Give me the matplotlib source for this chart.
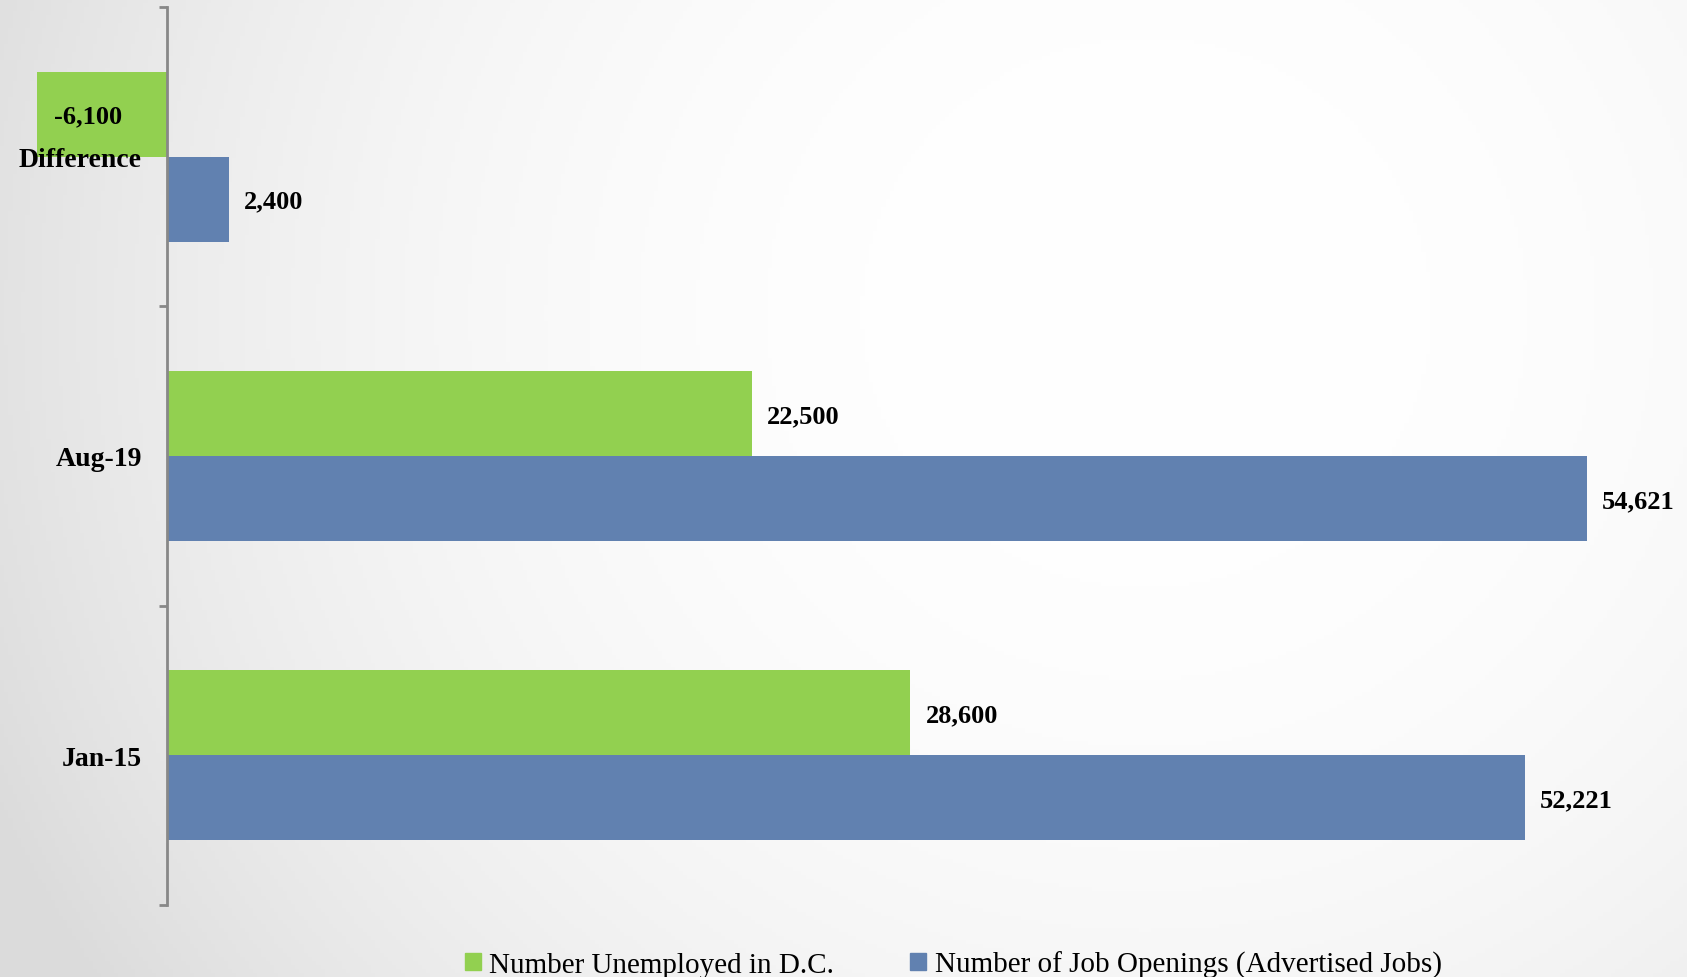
import numpy as np
import matplotlib.pyplot as plt
from matplotlib.patches import Patch

# 데이터
categories = ['Jan-15', 'Aug-19', 'Difference']
unemployed = [28600, 22500, -6100]
openings = [52221, 54621, 2400]
series_names = ['Number Unemployed in D.C.', 'Number of Job Openings (Advertised Jobs)']
green = '#92D050'
blue = '#6181B0'

plt.rcParams['font.family'] = ['Liberation Serif', 'DejaVu Serif']

fig = plt.figure(figsize=(16.87, 9.78), dpi=100)

# 배경 그라데이션 (방사형)
bg = fig.add_axes([0, 0, 1, 1], zorder=-10)
gx, gy = np.meshgrid(np.linspace(0, 1, 400), np.linspace(0, 1, 240))
r = np.sqrt(((gx - 0.68) * 1.0) ** 2 + ((gy - 0.68) * 0.6) ** 2)
r = np.clip(r / 0.75, 0, 1)
shade = 1.0 - 0.14 * r ** 2.4
bg.imshow(np.dstack([shade] * 3), extent=[0, 1, 0, 1], origin='lower', aspect='auto')
bg.axis('off')

ax = fig.add_axes([37 / 1687, 1 - 906 / 978, 1 - 37 / 1687, (906 - 8) / 978])
ax.patch.set_alpha(0)

y = np.arange(len(categories))
h = 0.284
ax.barh(y + h / 2, unemployed, height=h, color=green, label=series_names[0])
ax.barh(y - h / 2, openings, height=h, color=blue, label=series_names[1])

ax.set_xlim(-5000, 58470)
ax.set_ylim(-0.5, 2.5)

for s in ['top', 'right', 'bottom']:
    ax.spines[s].set_visible(False)
ax.spines['left'].set_position(('data', 0))
ax.spines['left'].set_color('#888888')
ax.spines['left'].set_linewidth(2)
ax.set_xticks([])

ax.set_yticks([-0.5, 0.5, 1.5, 2.5])
ax.set_yticklabels([])
ax.tick_params(axis='y', which='major', length=6, width=2, color='#888888', direction='out')
ax.set_yticks(y, minor=True)
ax.set_yticklabels(categories, minor=True, fontsize=20, fontweight='bold')
ax.tick_params(axis='y', which='minor', length=0, pad=18)

# 값 라벨
for yi, v in zip(y, unemployed):
    if v < 0:
        ax.annotate(f'{v:,}', (ax.get_xlim()[0], yi + h / 2), xytext=(17, -2),
                    textcoords='offset pixels', va='center', ha='left',
                    fontsize=19, fontweight='bold')
    else:
        ax.annotate(f'{v:,}', (v, yi + h / 2), xytext=(15, -2),
                    textcoords='offset pixels', va='center', ha='left',
                    fontsize=19, fontweight='bold')
for yi, v in zip(y, openings):
    ax.annotate(f'{v:,}', (v, yi - h / 2), xytext=(15, -2),
                textcoords='offset pixels', va='center', ha='left',
                fontsize=19, fontweight='bold')

handles = [Patch(color=green), Patch(color=blue)]
fig.legend(handles, series_names, loc='center', bbox_to_anchor=(0.565, 0.013),
           ncol=2, frameon=False, fontsize=21, handlelength=0.55, handleheight=0.55,
           handletextpad=0.3, columnspacing=2.6)

fig.savefig('out.png', dpi=100)
